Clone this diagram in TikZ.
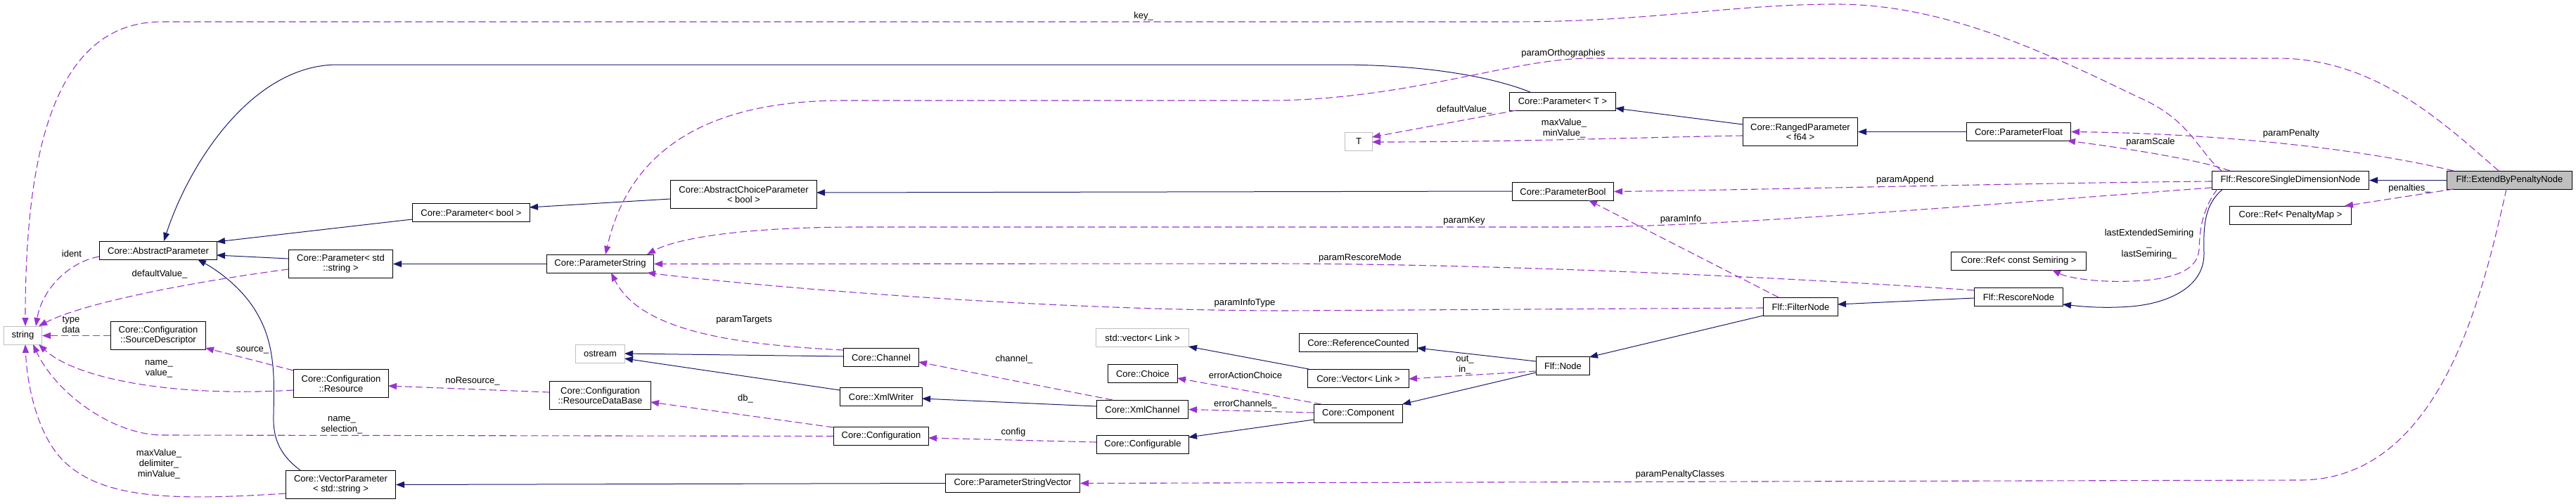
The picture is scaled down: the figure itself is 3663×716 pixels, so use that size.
\documentclass[tikz,border=0pt]{standalone}
\usepackage{fontspec}
\setmainfont{Liberation Sans}
\usetikzlibrary{arrows.meta}
\definecolor{navy}{RGB}{25,25,112}
\definecolor{purp}{RGB}{154,50,205}
\definecolor{gray75}{RGB}{191,191,191}
\newcommand\fsz{\fontsize{13}{14}\selectfont}
\newcommand\lsz{\fontsize{13}{15}\selectfont}
\begin{document}
\begin{tikzpicture}[x=1pt,y=-1pt,
  cls/.style={draw=black, line width=1pt, fill=white, inner sep=0pt, font=\fsz, align=center, anchor=north west},
  ext/.style={cls, draw=gray75},
  cur/.style={cls, fill=gray75},
  inh/.style={draw=navy, line width=1pt, -{Triangle[length=12pt,width=9pt]}},
  use/.style={draw=purp, line width=1.1pt, dash pattern=on 10pt off 5pt, -{Triangle[length=12pt,width=9pt]}},
  lbl/.style={font=\lsz, inner sep=0pt, align=center, text=black}]
\useasboundingbox (0,0) rectangle (3663,716);
% nodes
\node[ext, minimum width=54, minimum height=26] (str) at (5,464) {string};
\node[cls, minimum width=167, minimum height=26] (absP) at (141,343) {Core::AbstractParameter};
\node[cls, minimum width=148, minimum height=40] (parStd) at (410,355) {Core::Parameter< std\\::string >};
\node[cls, minimum width=135, minimum height=40] (srcDesc) at (157,457) {Core::Configuration\\::SourceDescriptor};
\node[cls, minimum width=135, minimum height=40] (res) at (417,525) {Core::Configuration\\::Resource};
\node[cls, minimum width=156, minimum height=40] (vecP) at (406,669) {Core::VectorParameter\\< std::string >};
\node[cls, minimum width=167, minimum height=26] (parBool) at (586,289) {Core::Parameter< bool >};
\node[cls, minimum width=208, minimum height=40] (acp) at (953,256) {Core::AbstractChoiceParameter\\< bool >};
\node[cls, minimum width=152, minimum height=26] (pStr) at (777,362) {Core::ParameterString};
\node[ext, minimum width=70, minimum height=26] (ostr) at (818,490) {ostream};
\node[cls, minimum width=144, minimum height=40] (rdb) at (781,542) {Core::Configuration\\::ResourceDataBase};
\node[cls, minimum width=107, minimum height=26] (chan) at (1199,495) {Core::Channel};
\node[cls, minimum width=117, minimum height=26] (xmlw) at (1194,551) {Core::XmlWriter};
\node[cls, minimum width=135, minimum height=26] (conf) at (1185,607) {Core::Configuration};
\node[cls, minimum width=191, minimum height=26] (psv) at (1344,674) {Core::ParameterStringVector};
\node[ext, minimum width=132, minimum height=26] (stdv) at (1558,467) {std::vector< Link >};
\node[cls, minimum width=99, minimum height=26] (choice) at (1575,518) {Core::Choice};
\node[cls, minimum width=130, minimum height=26] (xmlc) at (1559,569) {Core::XmlChannel};
\node[cls, minimum width=131, minimum height=26] (cfgb) at (1559,619) {Core::Configurable};
\node[cls, minimum width=151, minimum height=26] (parT) at (2146,131) {Core::Parameter< T >};
\node[ext, minimum width=39, minimum height=26] (tT) at (1912,188) {T};
\node[cls, minimum width=144, minimum height=26] (pBool) at (2150,259) {Core::ParameterBool};
\node[cls, minimum width=168, minimum height=26] (refc) at (1847,474) {Core::ReferenceCounted};
\node[cls, minimum width=144, minimum height=26] (vecL) at (1859,525) {Core::Vector< Link >};
\node[cls, minimum width=126, minimum height=26] (comp) at (1868,575) {Core::Component};
\node[cls, minimum width=76, minimum height=26] (fnode) at (2184,507) {Flf::Node};
\node[cls, minimum width=163, minimum height=40] (ranged) at (2478,167) {Core::RangedParameter\\< f64 >};
\node[cls, minimum width=148, minimum height=26] (pFloat) at (2796,174) {Core::ParameterFloat};
\node[cls, minimum width=192, minimum height=26] (refSem) at (2774,358) {Core::Ref< const Semiring >};
\node[cls, minimum width=106, minimum height=26] (filt) at (2507,423) {Flf::FilterNode};
\node[cls, minimum width=126, minimum height=26] (resc) at (2807,409) {Flf::RescoreNode};
\node[cls, minimum width=223, minimum height=26] (rsdn) at (3145,243) {Flf::RescoreSingleDimensionNode};
\node[cur, minimum width=178, minimum height=26] (ebpn) at (3479,243) {Flf::ExtendByPenaltyNode};
\node[cls, minimum width=173, minimum height=26] (refPen) at (3170,293) {Core::Ref< PenaltyMap >};
% inheritance
\draw[inh] ([shift={(30,0)}]parT.north west) .. controls (2110,105) and (2010,92) .. (1900,92) -- (480,92) .. controls (360,92) and (270,230) .. ([shift={(92,0)}]absP.north west);
\draw[inh] ([shift={(0,23)}]parBool.north west) -- ([shift={(167,1)}]absP.north west);
\draw[inh] ([shift={(0,13)}]parStd.north west) -- ([shift={(167,20)}]absP.north west);
\draw[inh] ([shift={(21,0)}]vecP.north west) .. controls (395,645) and (388,620) .. (389,590) .. controls (390,540) and (392,490) .. (365,445) .. controls (345,410) and (310,385) .. ([shift={(140,26)}]absP.north west);
\draw[inh] ([shift={(0,27)}]acp.north west) -- ([shift={(167,6)}]parBool.north west);
\draw[inh] ([shift={(0,13)}]pBool.north west) -- ([shift={(208,18)}]acp.north west);
\draw[inh] (pStr.west) -- (parStd.east);
\draw[inh] ([shift={(0,10)}]ranged.north west) -- ([shift={(151,23)}]parT.north west);
\draw[inh] (pFloat.west) -- (ranged.east);
\draw[inh] (psv.west) -- (vecP.east);
\draw[inh] ([shift={(0,9)}]xmlc.north west) -- ([shift={(117,16)}]xmlw.north west);
\draw[inh] ([shift={(0,12)}]chan.north west) -- ([shift={(70,13)}]ostr.north west);
\draw[inh] ([shift={(0,4)}]xmlw.north west) -- ([shift={(70,20)}]ostr.north west);
\draw[inh] ([shift={(0,7)}]fnode.north west) -- ([shift={(168,21)}]refc.north west);
\draw[inh] ([shift={(2,0)}]vecL.north west) -- ([shift={(132,26)}]stdv.north west);
\draw[inh] ([shift={(0,23)}]fnode.north west) -- ([shift={(126,0)}]comp.north west);
\draw[inh] ([shift={(0,22)}]comp.north west) -- ([shift={(131,3)}]cfgb.north west);
\draw[inh] ([shift={(0,26)}]filt.north west) -- ([shift={(76,1)}]fnode.north west);
\draw[inh] ([shift={(0,15)}]resc.north west) -- ([shift={(106,10)}]filt.north west);
\draw[inh] ([shift={(16,26)}]rsdn.north west) .. controls (3135,290) and (3133,320) .. (3134,360) .. controls (3135,410) and (3080,432) .. (3030,436) .. controls (2990,439) and (2960,436) .. ([shift={(126,24)}]resc.north west);
\draw[inh] (ebpn.west) -- (rsdn.east);
% usage
\draw[use] ([shift={(14,0)}]rsdn.north west) .. controls (3125,215) and (3115,170) .. (3040,138) .. controls (2900,70) and (2760,6) .. (2612,6) .. controls (2460,6) and (2350,31) .. (2150,31) -- (230,31) .. controls (65,31) and (36,250) .. ([shift={(31,0)}]str.north west);
\node[lbl] at (1626,23) {key\_};
\draw[use] ([shift={(74,0)}]ebpn.north west) .. controls (3480,180) and (3380,83) .. (3240,83) -- (2260,83) .. controls (2150,83) and (2000,143) .. (1800,143) -- (1200,143) .. controls (1040,143) and (900,190) .. ([shift={(84,0)}]pStr.north west);
\node[lbl] at (2223,76) {paramOrthographies};
\draw[use] ([shift={(85,26)}]ebpn.north west) .. controls (3530,420) and (3470,683) .. (3270,683) -- (psv.east);
\node[lbl] at (2389,675) {paramPenaltyClasses};
\draw[use] ([shift={(10,0)}]ebpn.north west) .. controls (3350,210) and (3150,190) .. (pFloat.east);
\node[lbl] at (3258,190) {paramPenalty};
\draw[use] ([shift={(26,0)}]rsdn.north west) .. controls (3130,228) and (3030,212) .. ([shift={(143,26)}]pFloat.north west);
\node[lbl] at (3058,202) {paramScale};
\draw[use] ([shift={(0,15)}]rsdn.north west) .. controls (2900,260) and (2500,270) .. (pBool.east);
\node[lbl] at (2709,256) {paramAppend};
\draw[use] ([shift={(0,24)}]rsdn.north west) .. controls (2900,285) and (2450,323) .. (2250,323) -- (1220,323) .. controls (1050,323) and (960,340) .. ([shift={(143,0)}]pStr.north west);
\node[lbl] at (2082,314) {paramKey};
\draw[use] ([shift={(22,0)}]filt.north west) -- ([shift={(109,26)}]pBool.north west);
\node[lbl] at (2390,312) {paramInfo};
\draw[use] ([shift={(0,4)}]resc.north west) .. controls (2500,392) and (2100,375) .. (1800,375) -- (pStr.east);
\node[lbl] at (1934,367) {paramRescoreMode};
\draw[use] ([shift={(0,15)}]filt.north west) -- (1830,442) .. controls (1500,442) and (1100,410) .. ([shift={(143,26)}]pStr.north west);
\node[lbl] at (1770,431) {paramInfoType};
\draw[use] ([shift={(0,3)}]chan.north west) .. controls (1040,490) and (910,470) .. ([shift={(92,26)}]pStr.north west);
\node[lbl] at (1058,455) {paramTargets};
\draw[use] ([shift={(23,0)}]xmlc.north west) -- ([shift={(107,20)}]chan.north west);
\node[lbl] at (1442,511) {channel\_};
\draw[use] ([shift={(11,0)}]comp.north west) -- ([shift={(99,20)}]choice.north west);
\node[lbl] at (1771,534) {errorActionChoice};
\draw[use] ([shift={(0,12)}]comp.north west) -- (xmlc.east);
\node[lbl] at (1771,575) {errorChannels\_};
\draw[use] ([shift={(0,10)}]cfgb.north west) -- ([shift={(135,16)}]conf.north west);
\node[lbl] at (1441,615) {config};
\draw[use] ([shift={(0,21)}]fnode.north west) -- ([shift={(144,14)}]vecL.north west);
\node[lbl] at (2083,519) {out\_\\in\_};
\draw[use] ([shift={(0,1)}]conf.north west) -- ([shift={(144,30)}]rdb.north west);
\node[lbl] at (1060,567) {db\_};
\draw[use] ([shift={(0,16)}]rdb.north west) -- ([shift={(135,24)}]res.north west);
\node[lbl] at (672,542) {noResource\_};
\draw[use] ([shift={(0,2)}]res.north west) -- ([shift={(135,38)}]srcDesc.north west);
\node[lbl] at (359,498) {source\_};
\draw[use] ([shift={(0,30)}]res.north west) .. controls (250,565) and (110,540) .. ([shift={(50,26)}]str.north west);
\node[lbl] at (226,525) {name\_\\value\_};
\draw[use] (srcDesc.west) -- (str.east);
\node[lbl] at (101,462) {type\\data};
\draw[use] (conf.west) -- (230,619) .. controls (160,618) and (80,560) .. ([shift={(42,26)}]str.north west);
\node[lbl] at (486,605) {name\_\\selection\_};
\draw[use] ([shift={(0,33)}]vecP.north west) .. controls (250,712) and (140,712) .. (85,650) .. controls (50,610) and (38,540) .. ([shift={(31,26)}]str.north west);
\node[lbl] at (226,660) {maxValue\_\\delimiter\_\\minValue\_};
\draw[use] ([shift={(0,22)}]absP.north west) .. controls (100,372) and (60,410) .. ([shift={(46,0)}]str.north west);
\node[lbl] at (102,361) {ident};
\draw[use] ([shift={(0,28)}]parStd.north west) .. controls (280,400) and (120,430) .. ([shift={(50,0)}]str.north west);
\node[lbl] at (227,390) {defaultValue\_};
\draw[use] ([shift={(10,26)}]parT.north west) -- ([shift={(39,7)}]tT.north west);
\node[lbl] at (2082,156) {defaultValue\_};
\draw[use] ([shift={(0,26)}]ranged.north west) .. controls (2350,195) and (2150,202) .. ([shift={(39,14)}]tT.north west);
\node[lbl] at (2224,183) {maxValue\_\\minValue\_};
\draw[use] ([shift={(10,26)}]ebpn.north west) -- ([shift={(164,0)}]refPen.north west);
\node[lbl] at (3426,268) {penalties\_};
\draw[use] ([shift={(8,26)}]rsdn.north west) .. controls (3130,300) and (3128,330) .. (3127,355) .. controls (3125,385) and (3090,398) .. (3030,400) .. controls (2980,402) and (2940,395) .. ([shift={(144,26)}]refSem.north west);
\node[lbl] at (3056,347) {lastExtendedSemiring\\\_\\lastSemiring\_};
\end{tikzpicture}
\end{document}
